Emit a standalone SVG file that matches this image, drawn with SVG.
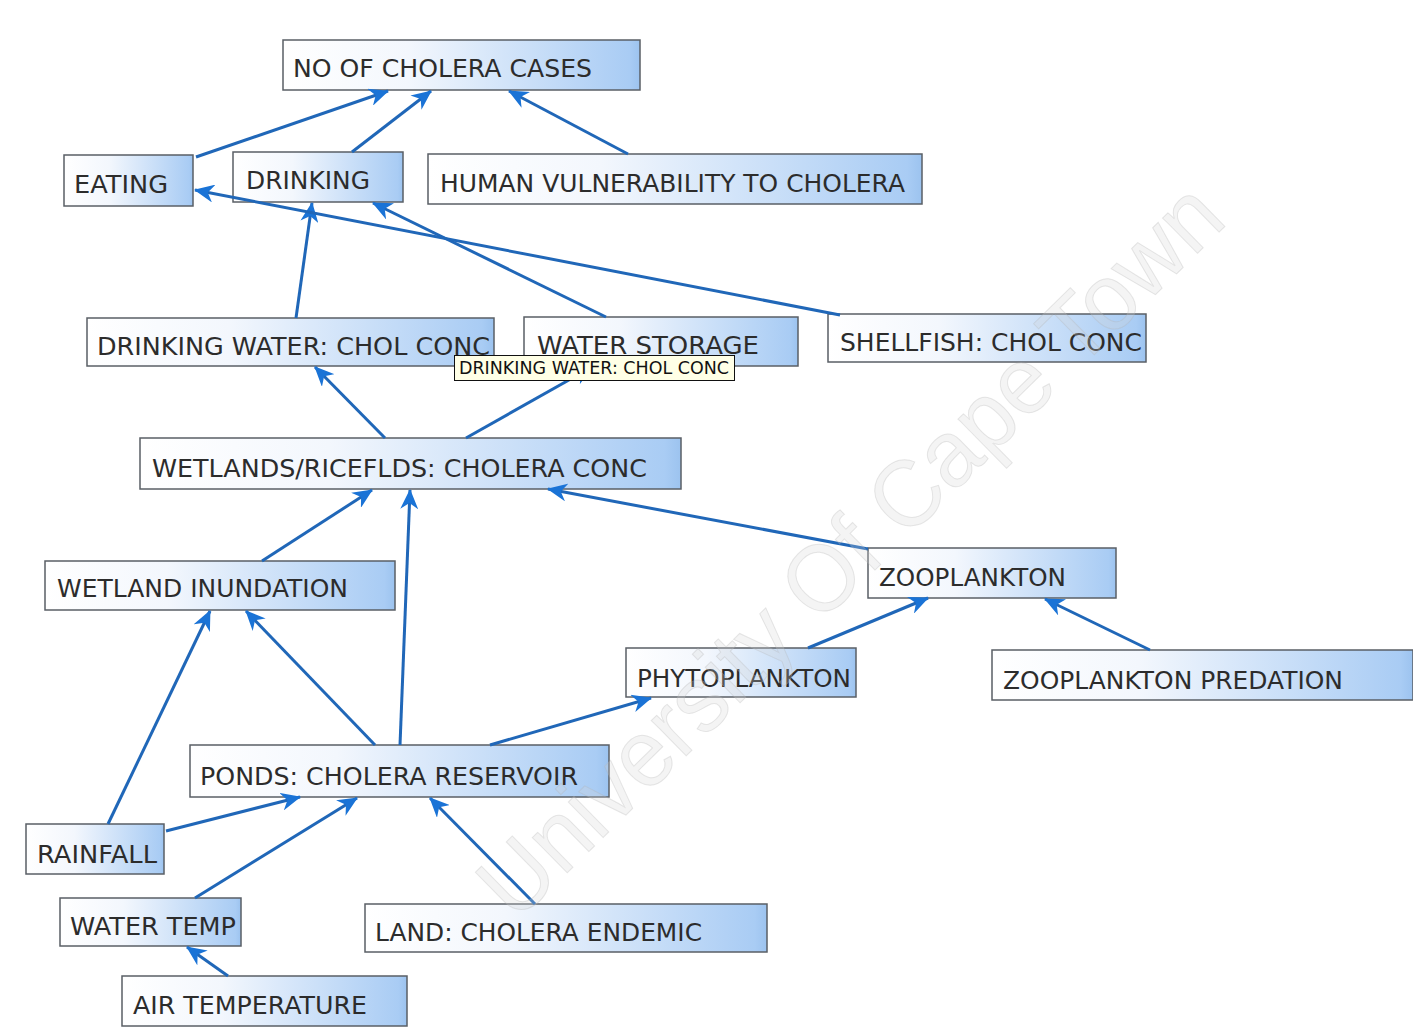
<svg xmlns="http://www.w3.org/2000/svg" width="1413" height="1029" viewBox="0 0 1413 1029">
  <defs>
    <linearGradient id="nodeFill" x1="0" y1="0" x2="1" y2="0">
      <stop offset="0" stop-color="#ffffff"/>
      <stop offset="0.35" stop-color="#f3f7fd"/>
      <stop offset="0.97" stop-color="#a9ccf4"/>
      <stop offset="1" stop-color="#9cc3ef"/>
    </linearGradient>
    <marker id="arrow" markerUnits="userSpaceOnUse" markerWidth="20" markerHeight="18" refX="19" refY="9" orient="auto">
      <path d="M0,0 L20,9 L0,18 L6,9 Z" fill="#1a73d6"/>
    </marker>
  </defs>
  <style>
    .box { fill: url(#nodeFill); stroke: #5a5f66; stroke-width: 1.5; }
    .label { font-family: "DejaVu Sans", Verdana, sans-serif; font-size: 24px; fill: #2c2c2c; }
    .edge { stroke: #2067b8; stroke-width: 3; fill: none; marker-end: url(#arrow); }
    .tip { fill: #ffffe6; stroke: #111; stroke-width: 1; }
    .tiptext { font-family: "DejaVu Sans", Verdana, sans-serif; font-size: 17px; fill: #111; }
    .mark { font-family: "Liberation Sans", Arial, sans-serif; font-size: 94px; fill: #d4d4d4; fill-opacity: 0.25; stroke: #b4b4b4; stroke-opacity: 0.3; stroke-width: 1; }
  </style>

  <rect width="1413" height="1029" fill="#ffffff"/>

  <!-- nodes -->
  <g id="n-cases"><rect class="box" x="283" y="40" width="357" height="50"/><text class="label" x="293" y="77" textLength="299" lengthAdjust="spacingAndGlyphs">NO OF CHOLERA CASES</text></g>
  <g id="n-eating"><rect class="box" x="64" y="155" width="129" height="51"/><text class="label" x="74" y="193" textLength="94" lengthAdjust="spacingAndGlyphs">EATING</text></g>
  <g id="n-drinking"><rect class="box" x="233" y="152" width="170" height="50"/><text class="label" x="246" y="189" textLength="124" lengthAdjust="spacingAndGlyphs">DRINKING</text></g>
  <g id="n-vulnerability"><rect class="box" x="428" y="154" width="494" height="50"/><text class="label" x="440" y="192" textLength="465" lengthAdjust="spacingAndGlyphs">HUMAN VULNERABILITY TO CHOLERA</text></g>
  <g id="n-drinkwater"><rect class="box" x="87" y="318" width="407" height="48"/><text class="label" x="97" y="355" textLength="393" lengthAdjust="spacingAndGlyphs">DRINKING WATER: CHOL CONC</text></g>
  <g id="n-storage"><rect class="box" x="524" y="317" width="274" height="49"/><text class="label" x="537" y="354" textLength="222" lengthAdjust="spacingAndGlyphs">WATER STORAGE</text></g>
  <g id="n-shellfish"><rect class="box" x="828" y="314" width="318" height="48"/><text class="label" x="840" y="351" textLength="302" lengthAdjust="spacingAndGlyphs">SHELLFISH: CHOL CONC</text></g>
  <g id="n-wetlands"><rect class="box" x="140" y="438" width="541" height="51"/><text class="label" x="152" y="477" textLength="495" lengthAdjust="spacingAndGlyphs">WETLANDS/RICEFLDS: CHOLERA CONC</text></g>
  <g id="n-inundation"><rect class="box" x="45" y="561" width="350" height="49"/><text class="label" x="57" y="597" textLength="291" lengthAdjust="spacingAndGlyphs">WETLAND INUNDATION</text></g>
  <g id="n-zooplankton"><rect class="box" x="868" y="548" width="248" height="50"/><text class="label" x="879" y="586" textLength="187" lengthAdjust="spacingAndGlyphs">ZOOPLANKTON</text></g>
  <g id="n-phytoplankton"><rect class="box" x="626" y="648" width="230" height="49"/><text class="label" x="637" y="687" textLength="214" lengthAdjust="spacingAndGlyphs">PHYTOPLANKTON</text></g>
  <g id="n-predation"><rect class="box" x="992" y="650" width="421" height="50"/><text class="label" x="1003" y="689" textLength="340" lengthAdjust="spacingAndGlyphs">ZOOPLANKTON PREDATION</text></g>
  <g id="n-ponds"><rect class="box" x="190" y="745" width="419" height="52"/><text class="label" x="200" y="785" textLength="378" lengthAdjust="spacingAndGlyphs">PONDS: CHOLERA RESERVOIR</text></g>
  <g id="n-rainfall"><rect class="box" x="26" y="824" width="138" height="50"/><text class="label" x="37" y="863" textLength="120" lengthAdjust="spacingAndGlyphs">RAINFALL</text></g>
  <g id="n-watertemp"><rect class="box" x="60" y="898" width="181" height="48"/><text class="label" x="70" y="935" textLength="166" lengthAdjust="spacingAndGlyphs">WATER TEMP</text></g>
  <g id="n-land"><rect class="box" x="365" y="904" width="402" height="48"/><text class="label" x="375" y="941" textLength="327" lengthAdjust="spacingAndGlyphs">LAND: CHOLERA ENDEMIC</text></g>
  <g id="n-airtemp"><rect class="box" x="122" y="976" width="285" height="50"/><text class="label" x="133" y="1014" textLength="234" lengthAdjust="spacingAndGlyphs">AIR TEMPERATURE</text></g>

  <!-- connectors -->
  <g id="connectors">
    <line class="edge" x1="196" y1="157" x2="388" y2="91"/>
    <line class="edge" x1="352" y1="152" x2="431" y2="91"/>
    <line class="edge" x1="628" y1="154" x2="509" y2="91"/>
    <line class="edge" x1="296" y1="318" x2="312" y2="203"/>
    <line class="edge" x1="606" y1="317" x2="373" y2="203"/>
    <line class="edge" x1="840" y1="315" x2="195" y2="190"/>
    <line class="edge" x1="466" y1="438" x2="592" y2="367"/>
    <line class="edge" x1="385" y1="438" x2="315" y2="367"/>
    <line class="edge" x1="262" y1="561" x2="372" y2="490"/>
    <line class="edge" x1="400" y1="745" x2="410" y2="490"/>
    <line class="edge" x1="868" y1="549" x2="548" y2="489"/>
    <line class="edge" x1="808" y1="648" x2="928" y2="598"/>
    <line class="edge" x1="1150" y1="650" x2="1045" y2="599"/>
    <line class="edge" x1="490" y1="745" x2="651" y2="698"/>
    <line class="edge" x1="375" y1="745" x2="246" y2="611"/>
    <line class="edge" x1="108" y1="824" x2="210" y2="611"/>
    <line class="edge" x1="166" y1="831" x2="300" y2="797"/>
    <line class="edge" x1="195" y1="898" x2="357" y2="798"/>
    <line class="edge" x1="535" y1="904" x2="430" y2="798"/>
    <line class="edge" x1="228" y1="976" x2="187" y2="947"/>
  </g>

  <!-- hover tooltip -->
  <g id="tooltip">
    <rect class="tip" x="454.5" y="355.5" width="280" height="25"/>
    <text class="tiptext" x="459" y="374" textLength="270" lengthAdjust="spacingAndGlyphs">DRINKING WATER: CHOL CONC</text>
  </g>

  <!-- watermark -->
  <text class="mark" x="850" y="582" text-anchor="middle" textLength="1000" lengthAdjust="spacingAndGlyphs" transform="rotate(-44.5 850 550)">University Of Cape Town</text>
</svg>
